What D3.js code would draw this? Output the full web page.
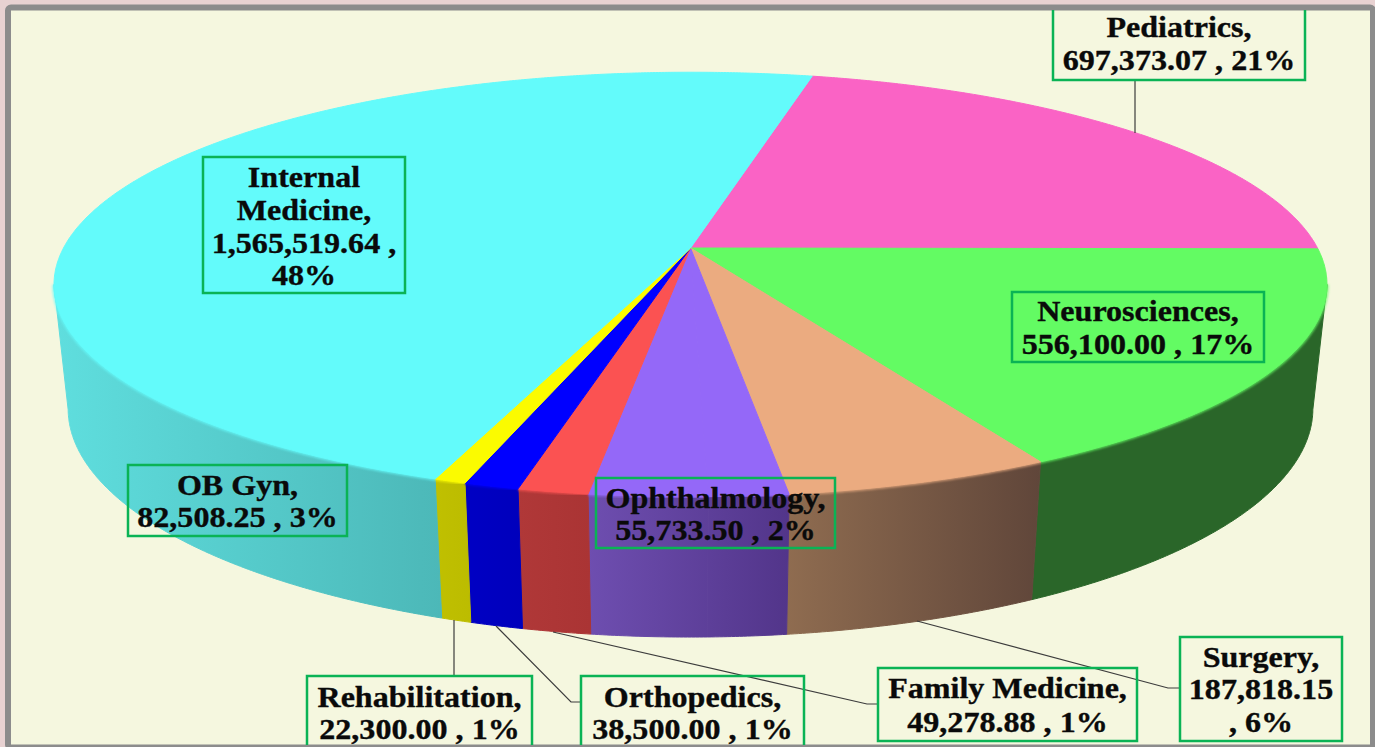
<!DOCTYPE html>
<html>
<head>
<meta charset="utf-8">
<script src="https://cdn.jsdelivr.net/npm/d3@7"></script>
<style>
	html, body { margin: 0; padding: 0; background: #e8d2d2; overflow: hidden; }
	text { font-family: "Liberation Serif", serif; font-weight: bold; fill: #0a0a0a; stroke: #0a0a0a; stroke-width: 0.35px; }
</style>
</head>
<body>
<div id="container"></div>
<script>
//the values, in the order they go round the pie
var categories = ["Pediatrics", "Neurosciences", "Surgery", "Ophthalmology", "OB Gyn", "Family Medicine", "Orthopedics", "Rehabilitation", "Internal Medicine"];
var values = [697373.07, 556100.00, 187818.15, 55733.50, 82508.25, 49278.88, 38500.00, 22300.00, 1565519.64];
var topColors = ["#fa63c5", "#63fb63", "#ebab80", "#9468f8", "#9468f8", "#fb5252", "#0000ff", "#fbfb00", "#63fbfb"];
var sideLeft = ["#2a6629", "#2a6629", "#8f6c50", "#6e4eb0", "#6e4eb0", "#b03838", "#0000c4", "#c0c000", "#5fdede"];
var sideRight = ["#2a6629", "#2a6629", "#60463a", "#52358a", "#52358a", "#aa3434", "#0000bc", "#bcbc00", "#4cb8b8"];

var width = 1375, height = 747;

//perspective of the disc: centre of the pie, half axes, tilt, wall depth
var cx = 690.5, cy = 248, rx = 627, ry = 206, tilt = 0.172;
var wallY = 124.7, wallW = 0.022;

//unit circle coordinates, angle measured clockwise from the top
var startAngle = 13.1 * Math.PI / 180;

function project(a, low) {
	var u = Math.sin(a), v = -Math.cos(a);
	var w = 1 - tilt * v + (low ? wallW : 0);
	return [cx + rx * u / w, cy + (ry * v + (low ? wallY : 0)) / w];
}

function arcPoints(a0, a1, low) {
	var n = Math.max(2, Math.ceil((a1 - a0) * 180));
	return d3.range(n + 1).map(function(i) { return project(a0 + (a1 - a0) * i / n, low); });
}

var line = d3.line();

var svg = d3.select("#container").append("svg")
	.attr("width", width)
	.attr("height", height)
	.style("display", "block");

var defs = svg.append("defs");
defs.append("filter").attr("id", "soft")
	.append("feGaussianBlur").attr("stdDeviation", 0.9);
defs.append("clipPath").attr("id", "inner").append("rect")
	.attr("x", 11).attr("y", 10).attr("width", 1359).attr("height", 735);

//frame
svg.append("rect").attr("x", 8).attr("y", 7.5).attr("width", 1365).attr("height", 740)
	.attr("rx", 3).attr("fill", "#f5f7df").attr("stroke", "#8c8c8c").attr("stroke-width", 6);

var plot = svg.append("g").attr("clip-path", "url(#inner)");

var pie = d3.pie().sort(null).startAngle(startAngle).endAngle(startAngle + 2 * Math.PI);
var arcs = pie(values);

//the wall, only the front part of the rim shows: the two tangent points are where v == tilt
var wallFrom = Math.PI - Math.acos(tilt), wallTo = Math.PI + Math.acos(tilt);
function clamped(d) {
	return [Math.max(d.startAngle, wallFrom), Math.min(d.endAngle, wallTo)];
}

//one gradient per colour so slices with the same colour read as one piece
function wallBounds(i) {
	var xs = [];
	arcs.forEach(function(d, j) {
		var c = clamped(d);
		if (topColors[j] !== topColors[i] || c[1] <= c[0]) return;
		arcPoints(c[0], c[1], false).concat(arcPoints(c[0], c[1], true)).forEach(function(p) { xs.push(p[0]); });
	});
	return d3.extent(xs);
}

arcs.forEach(function(d, i) {
	var c = clamped(d), a0 = c[0], a1 = c[1];
	if (a1 <= a0) return;
	var up = arcPoints(a0, a1, false), lo = arcPoints(a0, a1, true).reverse();
	var b = wallBounds(i);
	var g = defs.append("linearGradient").attr("id", "wall" + i)
		.attr("gradientUnits", "userSpaceOnUse")
		.attr("x1", b[0]).attr("x2", b[1]).attr("y1", 0).attr("y2", 0);
	g.append("stop").attr("offset", 0).attr("stop-color", sideLeft[i]);
	g.append("stop").attr("offset", 1).attr("stop-color", sideRight[i]);
	plot.append("path")
		.attr("d", line(up.concat(lo)) + "Z")
		.attr("fill", "url(#wall" + i + ")")
		.attr("stroke", "url(#wall" + i + ")")
		.attr("stroke-width", 1);
});

//soft bevel along the rim
arcs.forEach(function(d, i) {
	var c = clamped(d);
	if (c[1] <= c[0]) return;
	plot.append("path")
		.attr("d", line(arcPoints(c[0], c[1], false)))
		.attr("fill", "none")
		.attr("stroke", topColors[i])
		.attr("stroke-opacity", 0.75)
		.attr("stroke-width", 3.5)
		.attr("filter", "url(#soft)");
});

//the top of the pie
arcs.forEach(function(d, i) {
	var pts = [[cx, cy]].concat(arcPoints(d.startAngle, d.endAngle, false));
	plot.append("path")
		.attr("d", line(pts) + "Z")
		.attr("fill", topColors[i])
		.attr("stroke", topColors[i])
		.attr("stroke-width", 1);
});

//label boxes
var boxes = {
	"Pediatrics": {x: 1053, y: 6, w: 252, h: 74, lines: ["Pediatrics,", "697,373.07 , 21%"], base: [31, 64]},
	"Neurosciences": {x: 1012, y: 292, w: 252, h: 70, lines: ["Neurosciences,", "556,100.00 , 17%"], base: [29, 62]},
	"Surgery": {x: 1180, y: 637, w: 162, h: 104, lines: ["Surgery,", "187,818.15", ", 6%"], base: [30, 62, 95]},
	"Ophthalmology": {x: 596, y: 478, w: 239, h: 70, lines: ["Ophthalmology,", "55,733.50 , 2%"], base: [30, 62]},
	"OB Gyn": {x: 128, y: 465, w: 219, h: 71, lines: ["OB Gyn,", "82,508.25 , 3%"], base: [30, 62]},
	"Family Medicine": {x: 878, y: 668, w: 259, h: 73, lines: ["Family Medicine,", "49,278.88 , 1%"], base: [30, 64]},
	"Orthopedics": {x: 581, y: 676, w: 223, h: 72, lines: ["Orthopedics,", "38,500.00 , 1%"], base: [31, 63]},
	"Rehabilitation": {x: 307, y: 676, w: 225, h: 72, lines: ["Rehabilitation,", "22,300.00 , 1%"], base: [31, 63]},
	"Internal Medicine": {x: 203, y: 157, w: 202, h: 136, lines: ["Internal", "Medicine,", "1,565,519.64 ,", "48%"], base: [30, 63, 96, 128]}
};

//leader lines run from the rim to the box
var leaders = [
	[[1135, 80], [1135, 133]],
	[[454, 620], [454, 676]],
	[[496, 626], [571, 702], [581, 702]],
	[[553, 632], [867, 704], [878, 704]],
	[[917, 621], [1168, 688], [1180, 688]]
];
leaders.forEach(function(l) {
	plot.append("path").attr("d", line(l)).attr("fill", "none")
		.attr("stroke", "#3c3c3c").attr("stroke-width", 1.2);
});

categories.forEach(function(name) {
	var b = boxes[name];
	var g = plot.append("g").attr("transform", "translate(" + b.x + "," + b.y + ")");
	g.append("rect").attr("x", 0).attr("y", 0).attr("width", b.w).attr("height", b.h)
		.attr("fill", "none").attr("stroke", "#0ab355").attr("stroke-width", 2.5);
	g.selectAll("text").data(b.lines).enter().append("text")
		.attr("transform", function(d, i) { return "translate(" + (b.w / 2) + "," + b.base[i] + ") scale(1.07,1)"; })
		.attr("text-anchor", "middle")
		.attr("font-size", 30)
		.text(function(d) { return d; });
});
</script>
</body>
</html>
